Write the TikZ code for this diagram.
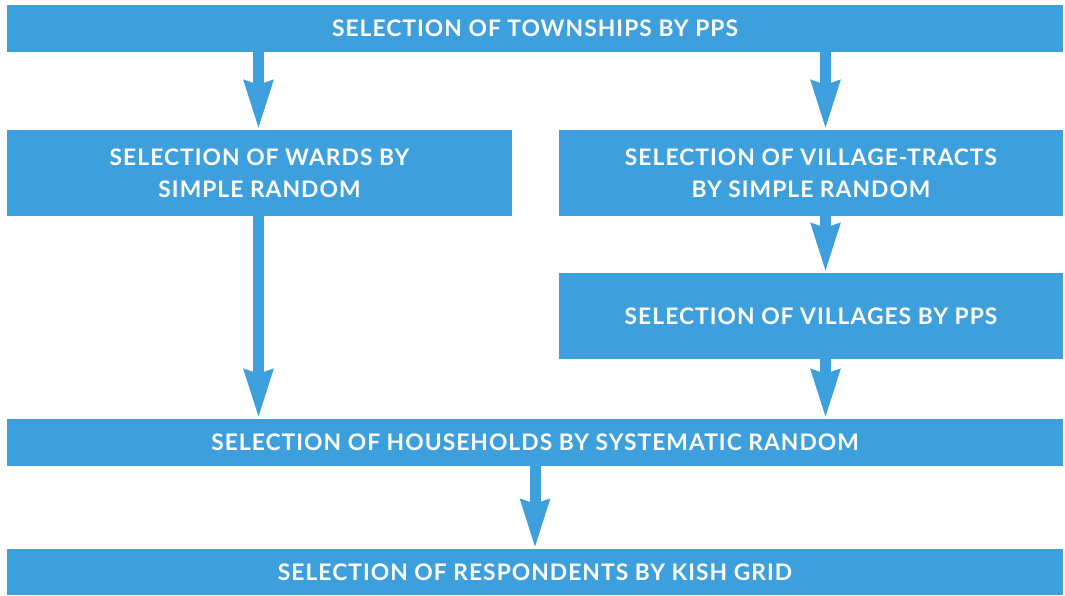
\documentclass[tikz,border=0pt]{standalone}
\usepackage{fontspec}
\setmainfont{Lato}[LetterSpace=4.5]
\usetikzlibrary{arrows.meta}
\definecolor{boxblue}{RGB}{61,160,220}
\begin{document}
\begin{tikzpicture}[x=1pt,y=-1pt,
  box/.style={fill=boxblue, draw=none, inner sep=0pt, text=white,
    font=\fontsize{22.8}{32}\selectfont\bfseries, align=center},
  arr/.style={draw=boxblue, line width=11pt,
    -{Stealth[length=48pt, width=27pt, inset=3pt]}}]
\useasboundingbox (0,0) rectangle (1065,595);
\node[box, minimum width=1056pt, minimum height=47pt] (top) at (535,28.5) {SELECTION OF TOWNSHIPS BY PPS};
\node[box, minimum width=505pt, minimum height=86pt] (wards) at (259.5,173) {SELECTION OF WARDS BY\\SIMPLE RANDOM};
\node[box, minimum width=504pt, minimum height=86pt] (vt) at (811,173) {SELECTION OF VILLAGE-TRACTS\\BY SIMPLE RANDOM};
\node[box, minimum width=504pt, minimum height=86pt] (vil) at (811,316) {SELECTION OF VILLAGES BY PPS};
\node[box, minimum width=1056pt, minimum height=47pt] (hh) at (535,442.5) {SELECTION OF HOUSEHOLDS BY SYSTEMATIC RANDOM};
\node[box, minimum width=1056pt, minimum height=46pt] (resp) at (535,572) {SELECTION OF RESPONDENTS BY KISH GRID};
\coordinate (xl) at (258.5,0);
\coordinate (xr) at (825.5,0);
\coordinate (xm) at (535,0);
\draw[arr] (top.south -| xl) -- (wards.north -| xl);
\draw[arr] (top.south -| xr) -- (vt.north -| xr);
\draw[arr] (wards.south -| xl) -- (hh.north -| xl);
\draw[arr] (vt.south -| xr) -- (vil.north -| xr);
\draw[arr] (vil.south -| xr) -- (hh.north -| xr);
\draw[arr] (hh.south -| xm) -- (resp.north -| xm);
\end{tikzpicture}
\end{document}
